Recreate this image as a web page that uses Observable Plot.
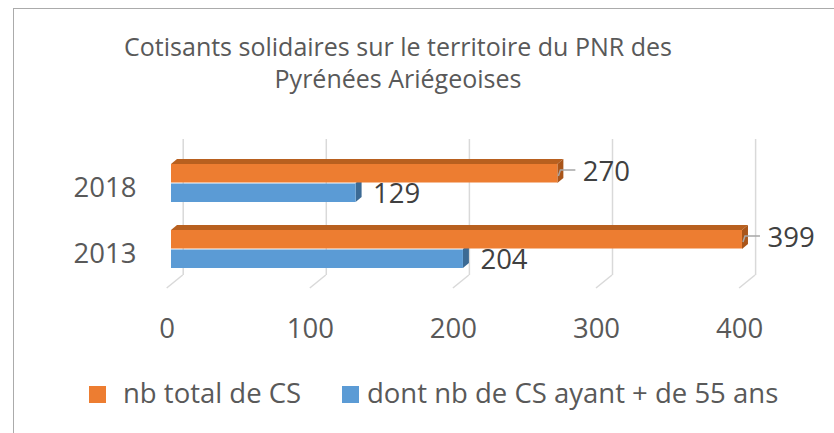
<!DOCTYPE html>
<html><head><meta charset="utf-8">
<script src="https://cdn.jsdelivr.net/npm/d3@7"></script>
<script src="https://cdn.jsdelivr.net/npm/@observablehq/plot@0.6"></script>
<style>
html,body{margin:0;padding:0;background:#fff;overflow:hidden;}
#wrap{position:relative;width:834px;height:433px;overflow:hidden;font-family:"Open Sans",sans-serif;color:#595959;}
#chart{position:absolute;left:0;top:0;}
#frame{position:absolute;left:13px;top:8px;width:900px;height:600px;border:1.5px solid #ABABAB;box-sizing:border-box;pointer-events:none;}
#title{position:absolute;left:0;width:796px;top:30px;text-align:center;font-size:25px;line-height:32px;white-space:nowrap;}
.sw{position:absolute;width:17px;height:17px;top:386px;}
.lt{position:absolute;top:376px;font-size:27.5px;line-height:34px;white-space:nowrap;}
</style></head>
<body>
<div id="wrap">
  <div id="chart"></div>
  <div id="title">Cotisants solidaires sur le territoire du PNR des<br>Pyrénées Ariégeoises</div>
  <div class="sw" style="left:89px;background:#ED7D31"></div>
  <div class="lt" id="l0" style="left:123px"></div>
  <div class="sw" style="left:342px;background:#5B9BD5"></div>
  <div class="lt" id="l1" style="left:367px"></div>
  <div id="frame"></div>
</div>
<script>
const years = ["2018", "2013"];
const seriesNames = ["nb total de CS", "dont nb de CS ayant + de 55 ans"];
const totalCS = [270, 399];
const over55CS = [129, 204];
const xTicks = [0, 100, 200, 300, 400];
const seriesColors = ["#ED7D31", "#5B9BD5"];
const topColors = ["#B8601F", "#3F6F9A"];
const sideColors = ["#A9551A", "#3C6A94"];

document.getElementById("l0").textContent = seriesNames[0];
document.getElementById("l1").textContent = seriesNames[1];

const data = years.flatMap((yr, i) => [
  {year: yr, series: seriesNames[0], s: 0, value: totalCS[i]},
  {year: yr, series: seriesNames[1], s: 1, value: over55CS[i]}
]);
const orange = data.filter(d => d.s === 0);
const blue = data.filter(d => d.s === 1);

const W = 834, H = 433;
const chart = Plot.plot({
  width: W, height: H,
  marginLeft: 171, marginRight: 90.6, marginTop: 135, marginBottom: 136,
  style: {background: "transparent", fontFamily: "Open Sans", fontSize: "27.5px", color: "#595959"},
  x: {domain: [0, 400], axis: null},
  y: {domain: years, padding: 0.418, axis: null},
  color: {domain: seriesNames, range: seriesColors},
  marks: [
    Plot.ruleX(xTicks, {x: d => d, dx: 11.7, insetTop: 4, insetBottom: 22, stroke: "#D9D9D9", strokeWidth: 1.5}),
    Plot.barX(orange, {x: "value", y: "year", fill: "series", insetBottom: 19.5}),
    Plot.barX(blue, {x: "value", y: "year", fill: "series", insetTop: 19.5}),
    Plot.axisX({ticks: xTicks, tickSize: 0, tickPadding: 21, dx: -4.3, fill: "#595959", label: null, tickFormat: d => String(d)}),
    Plot.axisY({tickSize: 0, tickPadding: 35, dy: 4.5, fill: "#595959", label: null}),
    Plot.text(orange, {x: "value", y: "year", text: d => String(d.value), textAnchor: "start", dx: 25, dy: -11, fill: "#404040"}),
    Plot.text(blue, {x: "value", y: "year", text: d => String(d.value), textAnchor: "start", dx: 17, dy: 11, fill: "#404040"})
  ]
});
document.getElementById("chart").appendChild(chart);

// 3D faces, floor lines and leader lines computed from Plot's scales
const xs = chart.scale("x"), ys = chart.scale("y");
const svg = d3.select(chart);
const bw = ys.bandwidth;
const depthX = 6, depthY = -5;
const faces = svg.insert("g", 'g[aria-label="bar"]');
const floorY = H - 136 - 22;
xTicks.forEach(t => {
  const xb = xs.apply(t) + 11.7;
  faces.append("line").attr("x1", xb).attr("y1", floorY).attr("x2", xb - 16).attr("y2", floorY + 13)
    .attr("stroke", "#D9D9D9").attr("stroke-width", 1.5);
});
data.forEach(d => {
  const x0 = xs.apply(0), x1 = xs.apply(d.value);
  const yb = ys.apply(d.year);
  const yt = d.s === 0 ? yb : yb + bw / 2;
  const ybot = d.s === 0 ? yb + bw / 2 : yb + bw;
  if (d.s === 0) {
    faces.append("polygon")
      .attr("points", [[x0, yt], [x0 + depthX, yt + depthY], [x1 + depthX, yt + depthY], [x1, yt]].map(p => p.join(",")).join(" "))
      .attr("fill", topColors[0]);
  }
  faces.append("polygon")
    .attr("points", [[x1, yt], [x1 + depthX, yt + depthY], [x1 + depthX, ybot + depthY], [x1, ybot]].map(p => p.join(",")).join(" "))
    .attr("fill", sideColors[d.s]);
});
const lead = svg.append("g");
orange.forEach(d => {
  const x1 = xs.apply(d.value);
  const yc = ys.apply(d.year) + bw / 2 - 11 - 2;
  lead.append("path")
    .attr("d", `M${x1 + 1},${yc + 6}L${x1 + 3},${yc}L${x1 + 18},${yc}`)
    .attr("fill", "none").attr("stroke", "#A6A6A6").attr("stroke-width", 1.5);
});
</script>
</body></html>
